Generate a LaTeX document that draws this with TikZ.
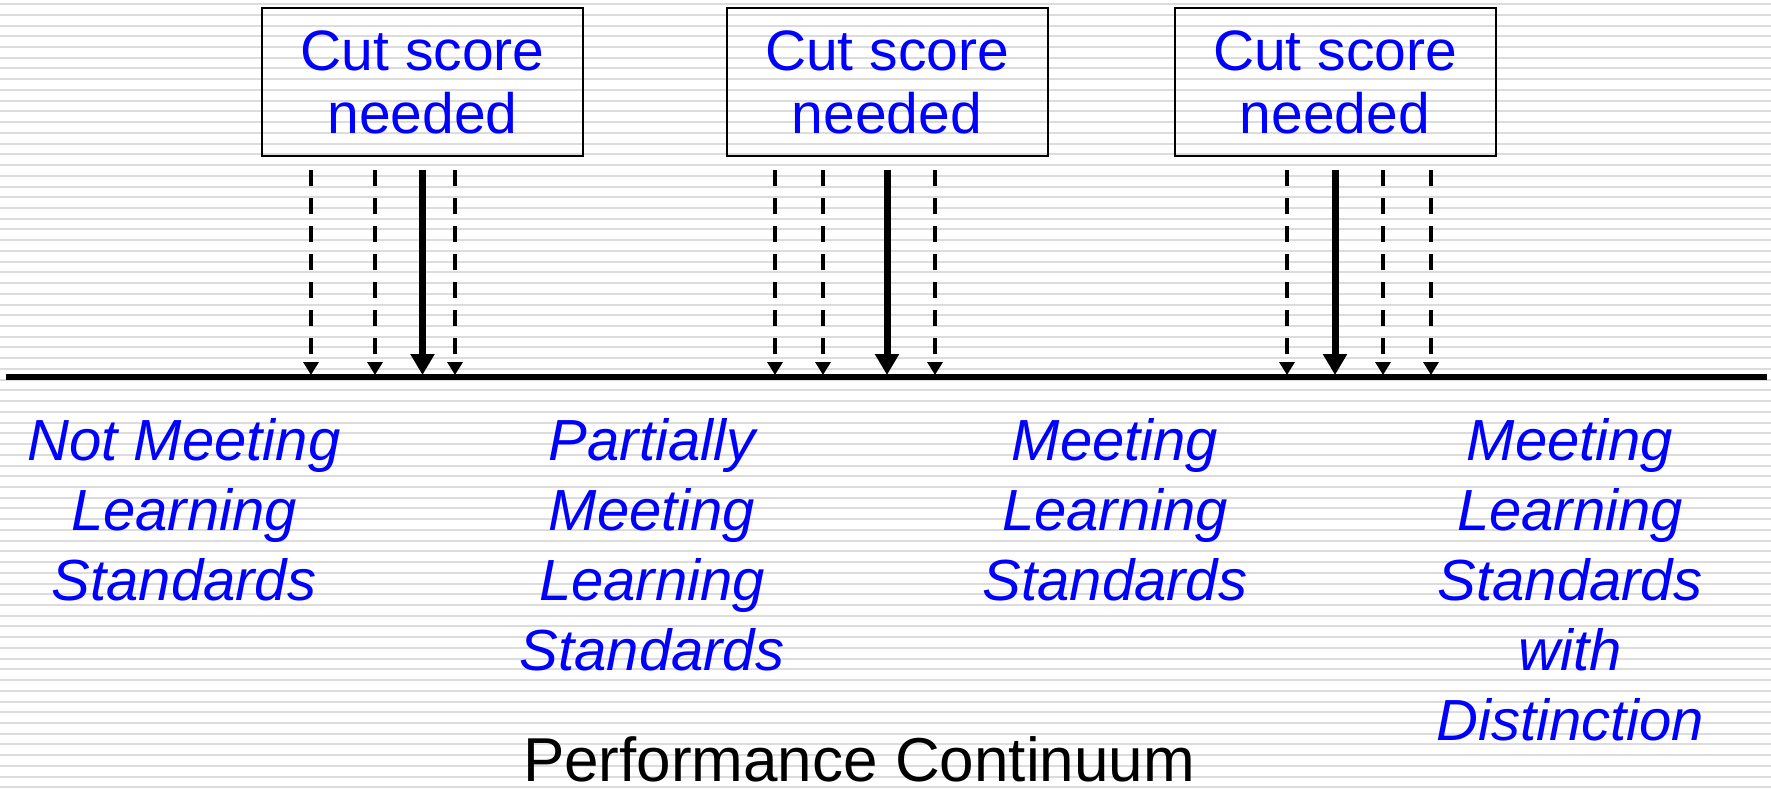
\documentclass[tikz,border=0pt]{standalone}
\usepackage{fontspec}
\setmainfont{Liberation Sans}
\usetikzlibrary{arrows.meta}

\definecolor{stripegray}{RGB}{220,220,220}
\definecolor{labelblue}{RGB}{0,0,255}

\begin{document}
\begin{tikzpicture}[x=0.5pt,y=-0.5pt,
  stripe/.style={draw=stripegray, line width=1pt},
  axisline/.style={line width=2.6pt},
  cutbox/.style={draw, line width=1pt, inner sep=0pt,
    minimum width=160.5pt, minimum height=74pt, align=center,
    text=labelblue, font=\fontsize{28.5pt}{31.5pt}\selectfont},
  levellabel/.style={anchor=base, align=center, inner sep=0pt,
    text=labelblue, font=\fontsize{29pt}{35pt}\selectfont\itshape},
  titlelabel/.style={anchor=base, inner sep=0pt, text depth=0pt,
    font=\fontsize{31pt}{37pt}\selectfont},
  maincut/.style={line width=3.5pt, -{Triangle[width=11.5pt,length=10.5pt]}},
  altcut/.style={line width=2pt, dash pattern=on 7.75pt off 6.25pt,
    -{Triangle[width=7.5pt,length=6.5pt]}}
]
% page and striped background
\useasboundingbox (0,0) rectangle (1771,788);
\fill[white] (0,0) rectangle (1771,788);
\foreach \k in {0,...,73}
  \draw[stripe] (0,{4.1+10.73*\k}) -- (1771,{4.1+10.73*\k});

% performance axis
\coordinate (axL) at (6,377);
\coordinate (axR) at (1767,377);
\draw[axisline] (axL) -- (axR);

% cut score boxes
\node[cutbox] (box1) at (422.5,82) {Cut score\\needed};
\node[cutbox] (box2) at (887,82) {Cut score\\needed};
\node[cutbox] (box3) at (1335,82) {Cut score\\needed};

% candidate cut points: solid = chosen, dashed = alternatives
\foreach \n/\x in {a1/311,a2/375,a3/455,b1/775,b2/823,b3/935,c1/1287,c2/1383,c3/1431}{
  \coordinate (\n top) at (\x,170);
  \coordinate (\n tip) at (\x,375);
  \draw[altcut] (\n top) -- (\n tip);
}
\foreach \n/\x in {a0/422.5,b0/887,c0/1335}{
  \coordinate (\n top) at (\x,170);
  \coordinate (\n tip) at (\x,375);
  \draw[maincut] (\n top) -- (\n tip);
}

% performance levels (anchored at the baseline of the last line)
\node[levellabel] (lev1) at (184,600) {Not Meeting\\Learning\\Standards};
\node[levellabel] (lev2) at (652,670) {Partially\\Meeting\\Learning\\Standards};
\node[levellabel] (lev3) at (1115,600) {Meeting\\Learning\\Standards};
\node[levellabel] (lev4) at (1570,740) {Meeting\\Learning\\Standards\\with\\Distinction};

\node[titlelabel] (title) at (859,781) {Performance Continuum};
\end{tikzpicture}
\end{document}
